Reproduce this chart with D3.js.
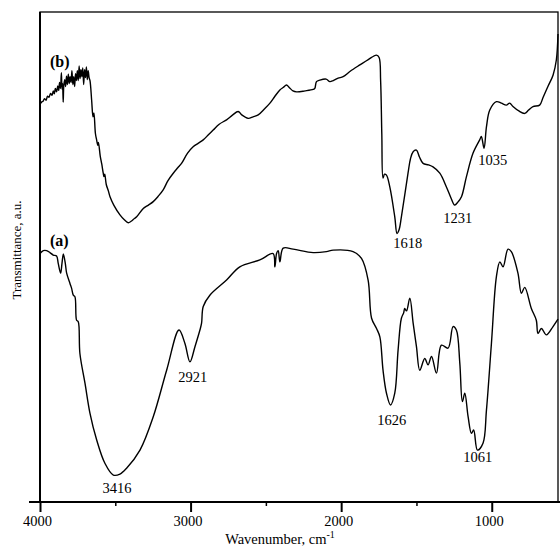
<!DOCTYPE html>
<html>
<head>
<meta charset="utf-8">
<script src="https://cdn.jsdelivr.net/npm/d3@7"></script>
<style>
  body { margin: 0; background: #fff; }
  text { font-family: "Liberation Serif", "Times New Roman", serif; fill: #000; }
</style>
</head>
<body>
<svg id="root"></svg>
<script>
// spectrum (a): [wavenumber, transmittance a.u.]
const spectrumA = [
  [4000, 50.7], [3978, 51.3], [3956, 51.3], [3934, 50.9], [3912, 50.4], [3890, 50.2],
  [3879, 48.7], [3863, 46.7], [3854, 48.7], [3845, 50.6], [3832, 48.7], [3823, 46.7],
  [3801, 44.6], [3790, 43.6], [3779, 42.2], [3768, 41.9], [3757, 37.1], [3746, 36.8],
  [3735, 30.3], [3701, 24.2], [3668, 18.1], [3624, 12.7], [3569, 7.9], [3513, 5.5],
  [3469, 5.7], [3425, 6.9], [3336, 10.6], [3248, 17.4], [3159, 26.9], [3077, 35.1],
  [3038, 32.4], [3004, 28.6], [2971, 31.7], [2938, 35.1], [2927, 36.5], [2916, 39.9],
  [2872, 42.2], [2761, 45.3], [2673, 48.0], [2540, 49.4], [2452, 50.7], [2440, 48.0],
  [2429, 50.7], [2418, 51.3], [2407, 49.0], [2385, 51.8], [2319, 51.6], [2186, 50.9],
  [2098, 51.1], [2053, 51.4], [1921, 51.1], [1865, 49.7], [1821, 45.3], [1798, 37.5],
  [1765, 35.4], [1743, 33.7], [1722, 26.9], [1699, 22.2], [1672, 19.8], [1644, 22.2],
  [1622, 31.0], [1600, 37.5], [1585, 38.6], [1578, 39.5], [1566, 39.0], [1544, 41.6],
  [1522, 36.5], [1500, 31.7], [1478, 26.9], [1445, 29.3], [1423, 28.0], [1400, 29.7],
  [1367, 26.3], [1334, 32.0], [1290, 31.4], [1257, 35.8], [1235, 35.1], [1212, 28.3],
  [1195, 20.5], [1179, 22.2], [1157, 17.4], [1135, 14.0], [1120, 14.7], [1095, 10.6],
  [1058, 12.0], [1035, 18.8], [1002, 32.4], [969, 46.0], [946, 49.0], [925, 48.0],
  [892, 51.6], [870, 51.1], [826, 46.7], [803, 42.6], [781, 43.8], [737, 39.5],
  [704, 37.1], [693, 34.4], [670, 35.4], [637, 34.1], [593, 35.8], [560, 37.3]
];

// spectrum (b)
const spectrumB = [
  [4000, 81.2], [3990, 81.6], [3980, 81.8], [3970, 82.3], [3960, 82.0], [3950, 82.8],
  [3940, 82.6], [3930, 83.4], [3920, 83.0], [3912, 83.9], [3905, 83.3], [3898, 84.4],
  [3890, 83.7], [3882, 84.9], [3876, 84.0], [3870, 85.6], [3864, 84.4], [3858, 87.6],
  [3854, 84.3], [3850, 85.4], [3846, 81.6], [3842, 85.0], [3836, 86.2], [3830, 84.8],
  [3824, 86.9], [3818, 85.2], [3812, 87.3], [3806, 85.4], [3800, 86.8], [3794, 85.6],
  [3788, 88.0], [3782, 85.2], [3776, 86.8], [3770, 84.8], [3764, 87.4], [3758, 86.0],
  [3752, 88.0], [3746, 86.0], [3740, 89.0], [3734, 86.4], [3728, 88.2], [3722, 86.8],
  [3716, 88.6], [3710, 85.2], [3704, 88.2], [3698, 86.6], [3692, 88.8], [3686, 86.2],
  [3680, 88.0], [3674, 86.6], [3668, 86.0], [3657, 82.0], [3648, 78.6], [3642, 79.4],
  [3632, 75.2], [3624, 73.9], [3616, 72.8], [3612, 73.4], [3600, 70.6], [3590, 69.0],
  [3580, 67.1], [3575, 66.4], [3570, 66.9], [3560, 64.8], [3545, 63.4], [3535, 62.3],
  [3510, 60.6], [3469, 58.6], [3440, 57.6], [3414, 57.0], [3395, 57.3], [3375, 57.8],
  [3358, 58.2], [3314, 59.9], [3280, 60.6], [3248, 61.3], [3215, 62.4], [3182, 63.7],
  [3150, 65.6], [3115, 67.1], [3085, 68.2], [3060, 69.1], [3020, 71.2], [2983, 72.5],
  [2950, 73.2], [2916, 73.9], [2880, 75.0], [2850, 75.9], [2810, 77.1], [2761, 78.0],
  [2720, 79.0], [2684, 79.7], [2660, 79.0], [2618, 78.3], [2585, 78.6], [2551, 79.0],
  [2510, 80.2], [2473, 81.4], [2440, 82.8], [2407, 84.1], [2385, 84.6], [2363, 85.1],
  [2345, 84.6], [2320, 83.9], [2296, 83.7], [2240, 83.9], [2186, 84.2], [2175, 84.4],
  [2164, 85.8], [2142, 86.1], [2100, 86.3], [2075, 85.8], [2053, 86.0], [2020, 86.5],
  [1987, 86.8], [1940, 87.9], [1876, 89.2], [1820, 90.3], [1766, 91.2], [1748, 90.7],
  [1738, 86.0], [1730, 75.0], [1722, 66.1], [1712, 66.9], [1699, 66.7], [1677, 64.3],
  [1644, 58.2], [1629, 54.8], [1615, 55.6], [1600, 58.2], [1556, 67.1], [1540, 70.0],
  [1522, 71.5], [1500, 71.8], [1480, 70.4], [1456, 69.1], [1420, 68.8], [1390, 68.4],
  [1345, 67.1], [1301, 64.3], [1270, 62.0], [1246, 60.6], [1225, 61.2], [1201, 62.3],
  [1168, 66.4], [1124, 71.2], [1080, 73.9], [1069, 74.6], [1051, 72.2], [1035, 76.6],
  [1013, 80.0], [969, 81.7], [936, 81.4], [903, 81.0], [881, 81.4], [859, 80.7],
  [820, 79.8], [781, 79.3], [755, 80.0], [726, 80.7], [682, 81.0], [660, 82.5],
  [627, 84.8], [593, 87.1], [571, 90.2], [560, 95.5]
];

// peak labels: [text, wavenumber, value] (text centre, baseline)
const peakLabels = [
  ["3416", 3489, 1.8], ["2921", 2985, 24.5], ["1626", 1664, 15.7], ["1061", 1093, 8.2],
  ["1618", 1558, 51.8], ["1231", 1226, 56.9], ["1035", 993, 68.8]
];
const seriesLabels = [["(a)", 3934, 52.2], ["(b)", 3934, 88.8]];

const majorTicks = [4000, 3000, 2000, 1000];
const minorTicks = [3500, 2500, 1500];

const W = 560, H = 547;
const margin = { left: 40, right: 558, top: 12, bottom: 502 };

const svg = d3.select("#root").attr("width", W).attr("height", H);

let xScale = d3.scaleLinear([4000, 560], [margin.left, margin.right]);
let yScale = d3.scaleLinear([0, 100], [margin.bottom, margin.top]);

// frame
svg.append("rect")
  .attr("x", margin.left).attr("y", margin.top)
  .attr("width", margin.right - margin.left).attr("height", margin.bottom - margin.top)
  .attr("fill", "none").attr("stroke", "#000").attr("stroke-width", 1.3);
svg.append("line")
  .attr("x1", margin.left).attr("x2", margin.left)
  .attr("y1", margin.top).attr("y2", margin.bottom)
  .attr("stroke", "#000").attr("stroke-width", 2);

// x axis, line runs a bit past the frame
let xAxis = d3.axisBottom(xScale)
  .tickValues(majorTicks)
  .tickSize(10)
  .tickSizeOuter(0)
  .tickPadding(4)
  .tickFormat(d3.format("d"));
let gx = svg.append("g")
  .attr("transform", `translate(0,${margin.bottom})`)
  .call(xAxis);
gx.select(".domain").remove();
gx.selectAll(".tick line").attr("stroke-width", 2);
gx.selectAll(".tick text")
  .attr("dx", -3)
  .style("font-size", "14.5px")
  .style("font-family", "'Liberation Serif', serif");
gx.append("line")
  .attr("x1", margin.left - 11).attr("x2", W)
  .attr("stroke", "#000").attr("stroke-width", 2);

svg.append("g")
  .attr("transform", `translate(0,${margin.bottom})`)
  .call(d3.axisBottom(xScale).tickValues(minorTicks).tickSize(4).tickFormat(""))
  .call(g => g.select(".domain").remove())
  .selectAll(".tick line").attr("stroke-width", 1.5);

// axis titles
let xt = svg.append("text")
  .attr("x", 280).attr("y", 544)
  .attr("text-anchor", "middle")
  .style("font-size", "14.5px");
xt.append("tspan").text("Wavenumber, cm");
xt.append("tspan").attr("dy", -6).style("font-size", "10px").text("-1");

svg.append("text")
  .attr("transform", "translate(21,250) rotate(-90)")
  .attr("text-anchor", "middle")
  .style("font-size", "13px")
  .text("Transmittance, a.u.");

// spectra, smoothed a little
let line = d3.line()
  .curve(d3.curveCatmullRom.alpha(0.5))
  .x(d => xScale(d[0]))
  .y(d => yScale(d[1]));

[spectrumA, spectrumB].forEach(s => {
  svg.append("path")
    .datum(s)
    .attr("fill", "none")
    .attr("stroke", "#000")
    .attr("stroke-width", 1.4)
    .attr("stroke-linejoin", "round")
    .attr("d", line);
});

// labels
svg.selectAll(".peak")
  .data(peakLabels)
  .join("text")
  .attr("class", "peak")
  .attr("x", d => xScale(d[1]))
  .attr("y", d => yScale(d[2]))
  .attr("text-anchor", "middle")
  .style("font-size", "14.5px")
  .text(d => d[0]);

svg.selectAll(".series")
  .data(seriesLabels)
  .join("text")
  .attr("class", "series")
  .attr("x", d => xScale(d[1]))
  .attr("y", d => yScale(d[2]))
  .style("font-size", "16px")
  .style("font-weight", "bold")
  .text(d => d[0]);
</script>
</body>
</html>
